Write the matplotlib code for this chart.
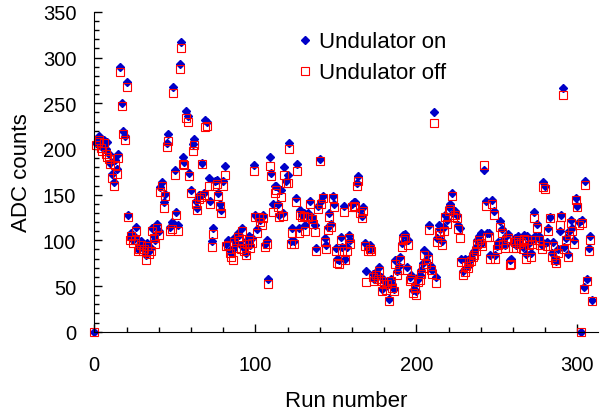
import numpy as np
import matplotlib
matplotlib.use("Agg")
import matplotlib.pyplot as plt
from matplotlib.ticker import MultipleLocator

plt.rcParams['font.family'] = ['Liberation Sans', 'DejaVu Sans']

# ADC counts per run, undulator on
adc_on = [0,
    207, 211, 214, 205, 202, 210, 200, 208, 194, 185, 173, 164, 188, 178, 194, 290, 250, 220, 214, 273,
    128, 104, 108, 100, 104, 115, 91, 95, 99, 92, 95, 84, 97, 88, 92, 113, 105, 100, 118,
    110, 158, 164, 142, 151, 206, 216, 115, 120, 268, 177, 131, 117, 293, 317, 191, 186, 242, 236, 174,
    155, 205, 211, 143, 135, 150, 150, 185, 152, 232, 229, 168, 143, 99, 114, 165, 166, 152, 140,
    133, 165, 181, 96, 100, 89, 86, 90, 102, 97, 108, 106, 95, 113, 92, 86, 100, 105, 95, 102,
    182, 128, 112, 126, 122, 125, 128, 96, 100, 58,
    191, 174, 140, 159, 160, 140, 128, 155, 130,
    180, 165, 171, 206, 99, 113, 99, 146, 184, 113,
    133, 128, 130, 117, 128, 130, 143, 126, 121, 117,
    92, 138, 189, 143, 149, 102, 95, 115, 130, 118, 149, 140,
    92, 80, 78, 104, 93, 138, 80, 93, 106, 100,
    140, 142, 142, 163, 170, 133, 127, 136, 97, 66, 92, 95,
    90, 63, 58, 65, 62, 71, 60, 47, 56, 50, 56, 36, 58, 52, 47, 78, 66,
    72, 82, 97, 106, 107, 71, 100, 60, 62, 46, 52, 44, 58, 62, 68, 75, 89, 78, 85, 117,
    72, 68, 241, 60, 102, 117, 112, 99, 115, 128, 122, 136, 140, 152, 130, 132, 128, 117, 113, 80, 66,
    80, 78, 72, 80, 80, 86, 88, 93, 100, 105, 108, 97, 177, 143, 108, 108, 84, 144, 132,
    84, 94, 98, 121, 112, 100, 95, 105, 107, 78, 80, 97, 102, 95, 105, 100, 103, 93, 106, 85,
    105, 97, 86, 100, 131, 105, 118, 105, 100, 95, 164, 160, 98, 114, 126, 86, 98, 81, 77, 90,
    110, 128, 267, 93, 103, 85, 110, 122, 114, 100, 146, 138, 120, 0, 122, 49, 165, 58, 92, 105, 35]

# ADC counts per run, undulator off
adc_off = [0,
    204, 208, 210, 201, 198, 206, 195, 191, 189, 183, 168, 160, 182, 173, 190, 284, 247, 216, 210, 268,
    126, 100, 105, 97, 100, 110, 88, 90, 95, 88, 90, 78, 94, 85, 88, 110, 102, 96, 114,
    106, 153, 160, 135, 148, 202, 209, 110, 112, 261, 171, 128, 110, 287, 310, 184, 182, 234, 230, 170,
    152, 198, 204, 140, 133, 145, 147, 183, 150, 224, 225, 160, 140, 93, 107, 160, 162, 148, 138,
    130, 160, 171, 94, 95, 86, 82, 78, 98, 92, 104, 100, 90, 110, 88, 84, 96, 100, 92, 97,
    176, 126, 108, 125, 120, 117, 124, 93, 96, 52,
    181, 170, 131, 152, 155, 136, 126, 147, 127,
    172, 163, 163, 200, 96, 108, 96, 142, 176, 108,
    128, 125, 127, 110, 125, 126, 140, 123, 118, 109,
    88, 134, 187, 140, 146, 98, 90, 111, 125, 115, 146, 136,
    88, 75, 74, 100, 88, 131, 78, 88, 102, 96,
    136, 138, 136, 160, 165, 130, 124, 132, 94, 54, 88, 90,
    88, 60, 55, 62, 58, 66, 56, 44, 52, 46, 52, 34, 55, 48, 44, 74, 62,
    68, 78, 93, 100, 102, 68, 95, 55, 58, 42, 48, 40, 54, 57, 63, 70, 84, 74, 80, 111,
    68, 63, 228, 53, 98, 109, 106, 95, 110, 125, 118, 132, 134, 149, 126, 128, 124, 112, 103, 76, 62,
    65, 72, 70, 76, 77, 82, 84, 88, 96, 100, 97, 94, 182, 138, 104, 104, 80, 140, 128,
    80, 90, 95, 115, 108, 96, 92, 100, 102, 73, 74, 92, 98, 92, 100, 96, 98, 90, 101, 80,
    100, 95, 82, 96, 124, 100, 114, 100, 95, 90, 158, 156, 94, 110, 124, 82, 94, 78, 75, 86,
    117, 125, 259, 90, 100, 82, 106, 119, 110, 96, 144, 136, 117, 0, 119, 47, 161, 56, 88, 100, 34]

assert len(adc_on) == 310 and len(adc_off) == 310, (len(adc_on), len(adc_off))
runs = np.arange(len(adc_on))

fig = plt.figure(figsize=(6.03, 4.14), dpi=100)
ax = fig.add_axes([0.1564, 0.1964, 0.8357, 0.7724])

ax.plot(runs, adc_on, 'D', color='#0000c8', ms=4.5, mec='#0000c8', label='Undulator on', clip_on=False)
ax.plot(runs, adc_off, 's', mfc='none', mec='#ff0000', mew=0.8, ms=5.5, label='Undulator off', clip_on=False)

ax.set_xlim(0, 313)
ax.set_ylim(0, 350)
ax.xaxis.set_major_locator(MultipleLocator(100))
ax.xaxis.set_minor_locator(MultipleLocator(20))
ax.yaxis.set_major_locator(MultipleLocator(50))
ax.yaxis.set_minor_locator(MultipleLocator(10))
ax.tick_params(which='both', direction='in', labelsize=14.5, width=1)
ax.tick_params(which='major', length=6)
ax.tick_params(which='minor', length=3.5)
ax.tick_params(axis='x', which='major', pad=17)
ax.tick_params(axis='y', which='major', pad=13)
for s in ['top', 'right']:
    ax.spines[s].set_visible(False)

ax.set_xlabel('Run number', fontsize=16, labelpad=11)
ax.set_ylabel('ADC counts', fontsize=16, labelpad=8)

ax.legend(loc='upper left', bbox_to_anchor=(0.361, 0.995), frameon=False, fontsize=16,
          handletextpad=0.13, labelspacing=0.45, handlelength=1.0, borderpad=0.3)

fig.savefig('out.png', dpi=100)
